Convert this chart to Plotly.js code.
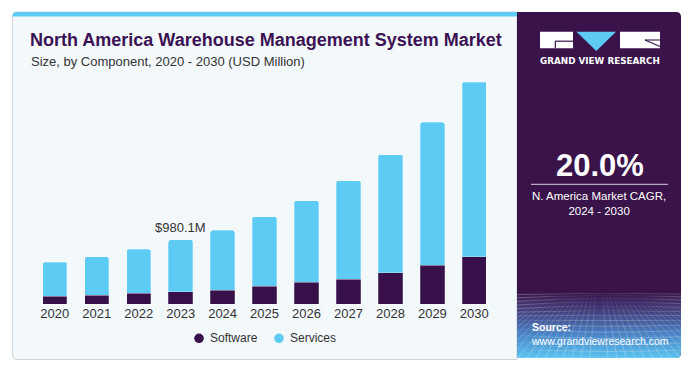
<!DOCTYPE html>
<html>
<head>
<meta charset="utf-8">
<script src="https://cdn.plot.ly/plotly-3.0.1.min.js"></script>
<style>html,body{margin:0;padding:0;background:#fff;}#chart{width:693px;height:368px;}</style>
</head>
<body>
<div id="chart"></div>
<script>
// ---- data ----
const years = ['2020','2021','2022','2023','2024','2025','2026','2027','2028','2029','2030'];
const seriesNames = ['Software','Services'];
const software = [121, 137, 167, 191, 212, 273, 334, 379, 475, 592, 722];
const services = [516, 581, 667, 789, 911, 1056, 1238, 1496, 1795, 2169, 2650];
const highlightYear = '2023';
const highlightLabel = '$980.1M';
const titleText = 'North America Warehouse Management System Market';
const subtitleText = 'Size, by Component, 2020 - 2030 (USD Million)';
const cagrValue = '20.0%';
const cagrLabel = 'N. America Market CAGR,<br>2024 - 2030';
const brandText = 'GRAND VIEW RESEARCH';
const sourceTitle = 'Source:';
const sourceUrl = 'www.grandviewresearch.com';

// ---- style ----
const W = 693, H = 368;
const colors = ['#37104a', '#5ecbf5'];
const purple = '#391349';
const fx = x => x / W;
const fy = y => 1 - y / H;
const P = (x, y) => fx(x).toFixed(5) + ',' + fy(y).toFixed(5);
function roundRect(x0, y0, x1, y1, r) {
  const [a, b, c, d] = r;
  return 'M' + P(x0 + a, y0) + ' L' + P(x1 - b, y0) + ' Q' + P(x1, y0) + ' ' + P(x1, y0 + b) +
    ' L' + P(x1, y1 - c) + ' Q' + P(x1, y1) + ' ' + P(x1 - c, y1) +
    ' L' + P(x0 + d, y1) + ' Q' + P(x0, y1) + ' ' + P(x0, y1 - d) +
    ' L' + P(x0, y0 + a) + ' Q' + P(x0, y0) + ' ' + P(x0 + a, y0) + ' Z';
}
function poly(pts) { return 'M' + pts.map(p => P(p[0], p[1])).join(' L') + ' Z'; }
function lineShape(x0, y0, x1, y1, color, width, layer) {
  return {type: 'line', xref: 'paper', yref: 'paper', x0: fx(x0), y0: fy(y0), x1: fx(x1), y1: fy(y1),
    line: {color: color, width: width}, layer: layer || 'above'};
}

// bottom decorative gradient grid (SVG image)
function gridSvg() {
  const w = 164, h = 66;
  let g = '';
  for (let i = 0; i <= 14; i++) {
    const t = i / 14;
    const y = h * Math.pow(t, 1.5);
    const wob = 3 * Math.sin(t * 6);
    g += `<path d="M0 ${(y + wob).toFixed(1)} Q${w / 2} ${(y - wob).toFixed(1)} ${w} ${(y + wob * 0.5).toFixed(1)}" fill="none"/>`;
  }
  for (let j = -30; j <= 30; j++) {
    const xt = w / 2 + j * 3.2, xb = w / 2 + j * 9;
    g += `<line x1="${xt.toFixed(1)}" y1="0" x2="${xb.toFixed(1)}" y2="${h}"/>`;
  }
  const svg = `<svg xmlns="http://www.w3.org/2000/svg" width="${w}" height="${h}" viewBox="0 0 ${w} ${h}" preserveAspectRatio="none">
<defs><linearGradient id="gr" x1="0" y1="0" x2="0" y2="1">
<stop offset="0" stop-color="${purple}"/><stop offset="0.3" stop-color="#42407f"/>
<stop offset="0.65" stop-color="#4a86c8"/><stop offset="1" stop-color="#5cc3ef"/></linearGradient>
<linearGradient id="gf" x1="0" y1="0" x2="0" y2="1"><stop offset="0" stop-color="#fff" stop-opacity="0"/><stop offset="0.35" stop-color="#fff" stop-opacity="0.22"/><stop offset="1" stop-color="#fff" stop-opacity="0.35"/></linearGradient>
<clipPath id="cp"><path d="M0 0 H${w} V${h - 5} Q${w} ${h} ${w - 5} ${h} H0 Z"/></clipPath></defs>
<g clip-path="url(#cp)"><rect width="${w}" height="${h}" fill="url(#gr)"/>
<g stroke="url(#gf)" stroke-width="0.7">${g}</g></g></svg>`;
  return 'data:image/svg+xml;charset=utf-8,' + encodeURIComponent(svg);
}

const traces = [
  {type: 'bar', name: seriesNames[0], x: years, y: software,
   marker: {color: colors[0], line: {color: 'rgba(255,255,255,0.28)', width: 0.8}},
   showlegend: false, hoverinfo: 'x+y+name'},
  {type: 'bar', name: seriesNames[1], x: years, y: services,
   marker: {color: colors[1], line: {color: 'rgba(255,255,255,0.35)', width: 0.8}},
   showlegend: false, hoverinfo: 'x+y+name'}
];

const hiIdx = years.indexOf(highlightYear);
const font = 'Liberation Sans, Arial, sans-serif';

const shapes = [
  {type: 'path', xref: 'paper', yref: 'paper', path: roundRect(12.5, 12, 517, 359.5, [5, 0, 0, 5]),
   fillcolor: '#f3f8fb', line: {color: '#cfd4d8', width: 1}, layer: 'below'},
  {type: 'path', xref: 'paper', yref: 'paper', path: roundRect(12.5, 12, 517, 16.5, [4, 0, 0, 0]),
   fillcolor: '#5dcbf4', line: {width: 0}, layer: 'below'},
  {type: 'path', xref: 'paper', yref: 'paper', path: roundRect(517, 12, 681, 358, [0, 5, 5, 0]),
   fillcolor: purple, line: {width: 0}, layer: 'below'},
  // logo
  {type: 'rect', xref: 'paper', yref: 'paper', x0: fx(540), x1: fx(573), y0: fy(48.3), y1: fy(31.7),
   fillcolor: '#ffffff', line: {width: 0}, layer: 'above'},
  lineShape(555, 41.2, 573, 41.2, purple, 1.2),
  lineShape(555.3, 41.2, 555.3, 48.3, purple, 1.2),
  {type: 'path', xref: 'paper', yref: 'paper', path: poly([[576.5, 31.7], [616, 31.7], [596.3, 51]]),
   fillcolor: '#5ecbf5', line: {width: 0}, layer: 'above'},
  {type: 'rect', xref: 'paper', yref: 'paper', x0: fx(620), x1: fx(660), y0: fy(48.3), y1: fy(31.7),
   fillcolor: '#ffffff', line: {width: 0}, layer: 'above'},
  lineShape(645, 40, 660, 40, purple, 1.1),
  lineShape(645, 40, 660, 46.5, purple, 1.1),
  // CAGR separator
  lineShape(531, 184.3, 668, 184.3, '#d9d2de', 1)
];

const legendAnn = [];
const legendX = [199, 279];
seriesNames.forEach((n, i) => {
  shapes.push({type: 'circle', xref: 'paper', yref: 'paper',
    x0: fx(legendX[i] - 4.8), x1: fx(legendX[i] + 4.8), y0: fy(338.3 + 4.8), y1: fy(338.3 - 4.8),
    fillcolor: colors[i], line: {width: 0}, layer: 'above'});
  legendAnn.push({xref: 'paper', yref: 'paper', x: fx(legendX[i] + 9), y: fy(338.3), xanchor: 'left', yanchor: 'middle',
    text: n, showarrow: false, font: {family: font, size: 12, color: '#333333'}});
});

const annotations = [
  {xref: 'paper', yref: 'paper', x: fx(28), y: fy(40), xanchor: 'left', yanchor: 'middle', showarrow: false,
   text: '<b>' + titleText + '</b>', font: {family: font, size: 18, color: '#3b1254'}},
  {xref: 'paper', yref: 'paper', x: fx(28.5), y: fy(61), xanchor: 'left', yanchor: 'middle', showarrow: false,
   text: subtitleText, font: {family: font, size: 13, color: '#333333'}},
  {xref: 'x', yref: 'y', x: hiIdx, y: software[hiIdx] + services[hiIdx], yanchor: 'bottom', yshift: 3,
   showarrow: false, text: highlightLabel, font: {family: font, size: 13, color: '#333333'}},
  {xref: 'paper', yref: 'paper', x: fx(600), y: fy(61), xanchor: 'center', yanchor: 'middle', showarrow: false,
   text: '<b>' + brandText + '</b>', font: {family: 'DejaVu Sans, sans-serif', size: 8.8, color: '#ffffff'}},
  {xref: 'paper', yref: 'paper', x: fx(600), y: fy(165), xanchor: 'center', yanchor: 'middle', showarrow: false,
   text: '<b>' + cagrValue + '</b>', font: {family: font, size: 31, color: '#ffffff'}},
  {xref: 'paper', yref: 'paper', x: fx(599), y: fy(203.5), xanchor: 'center', yanchor: 'middle', showarrow: false,
   text: cagrLabel, font: {family: font, size: 11.5, color: '#ffffff'}},
  {xref: 'paper', yref: 'paper', x: fx(529), y: fy(334), xanchor: 'left', yanchor: 'middle', showarrow: false, align: 'left',
   text: '<b>' + sourceTitle + '</b><br>' + sourceUrl, font: {family: font, size: 10.5, color: '#ffffff'}}
].concat(legendAnn);

const layout = {
  width: W, height: H,
  margin: {l: 0, r: 0, t: 0, b: 0},
  paper_bgcolor: '#ffffff', plot_bgcolor: 'rgba(0,0,0,0)',
  barmode: 'stack', bargap: 0.42, barcornerradius: 2,
  showlegend: false,
  xaxis: {domain: [33.8 / W, 495.3 / W], type: 'category', categoryorder: 'array', categoryarray: years,
    range: [-0.5, years.length - 0.5], autorange: false,
    showgrid: false, zeroline: false, showline: false,
    ticks: '', tickfont: {family: font, size: 13, color: '#333333'}, fixedrange: true},
  yaxis: {domain: [fy(304.3), fy(70)], range: [0, 3555], autorange: false, visible: false, showgrid: false, zeroline: false, fixedrange: true},
  shapes: shapes,
  annotations: annotations,
  images: [{source: gridSvg(), xref: 'paper', yref: 'paper', x: fx(517), y: fy(292), sizex: fx(681) - fx(517),
    sizey: fy(292) - fy(358), xanchor: 'left', yanchor: 'top', sizing: 'stretch', layer: 'above'}]
};

Plotly.newPlot('chart', traces, layout, {displayModeBar: false, staticPlot: true});
</script>
</body>
</html>
